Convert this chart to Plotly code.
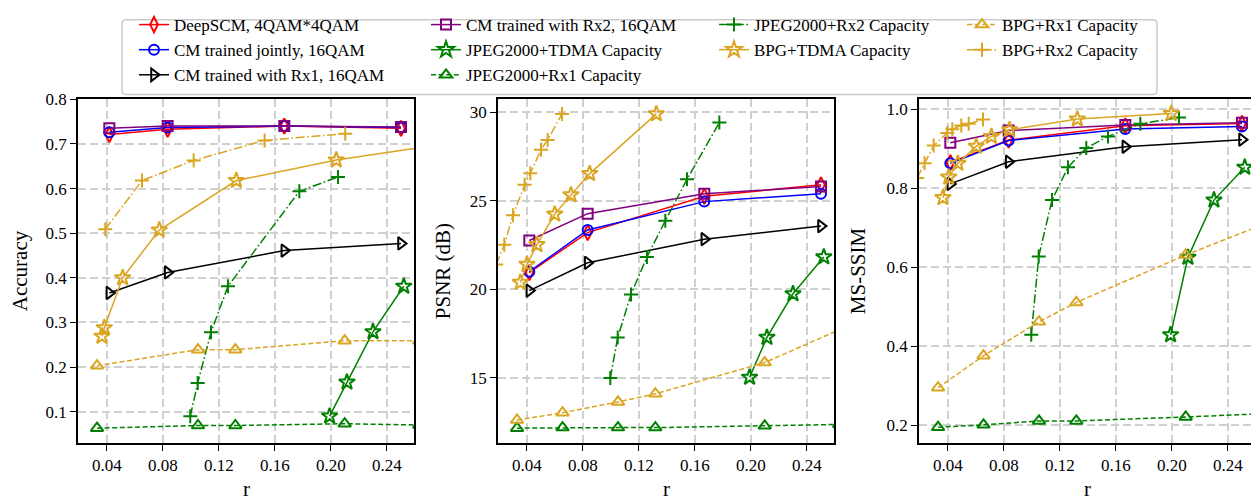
import plotly.graph_objects as go

W, H = 1251, 500

# ---------------- data ----------------
R_CM = [1/24, 1/12, 1/6, 1/4]
X_TICKS = [0.04, 0.08, 0.12, 0.16, 0.20, 0.24]

# (a) Accuracy
ACC_DEEPSCM = [0.721, 0.733, 0.740, 0.735]
ACC_CM_JOINT = [0.726, 0.737, 0.740, 0.737]
ACC_CM_RX1 = [0.366, 0.412, 0.461, 0.477]
ACC_CM_RX2 = [0.735, 0.740, 0.740, 0.738]
ACC_JPEG_TDMA_R = [0.199, 0.2114, 0.230, 0.252]
ACC_JPEG_TDMA = [0.090, 0.166, 0.279, 0.381]
ACC_JPEG_RX1_R = [0.0329, 0.105, 0.1317, 0.2098, 0.263]
ACC_JPEG_RX1 = [0.063, 0.069, 0.069, 0.073, 0.070]
ACC_JPEG_RX2_R = [0.0995, 0.1048, 0.1143, 0.1264, 0.1774, 0.205]
ACC_JPEG_RX2 = [0.090, 0.164, 0.278, 0.381, 0.594, 0.626]
ACC_BPG_TDMA_R = [0.0364, 0.0381, 0.0512, 0.0774, 0.1324, 0.2038, 0.30]
ACC_BPG_TDMA = [0.269, 0.288, 0.400, 0.507, 0.618, 0.664, 0.709]
ACC_BPG_RX1_R = [0.0329, 0.105, 0.1317, 0.2098, 0.263]
ACC_BPG_RX1 = [0.203, 0.239, 0.239, 0.259, 0.259]
ACC_BPG_RX2_R = [0.0388, 0.065, 0.1019, 0.1526, 0.2102]
ACC_BPG_RX2 = [0.509, 0.618, 0.663, 0.708, 0.723]

# (b) PSNR
PSNR_DEEPSCM = [20.95, 23.2, 25.25, 25.9]
PSNR_CM_JOINT = [21.0, 23.35, 24.95, 25.4]
PSNR_CM_RX1 = [19.93, 21.5, 22.83, 23.57]
PSNR_CM_RX2 = [22.76, 24.27, 25.4, 25.8]
PSNR_JPEG_TDMA_R = [0.199, 0.2114, 0.230, 0.252]
PSNR_JPEG_TDMA = [15.04, 17.29, 19.75, 21.83]
PSNR_JPEG_RX1_R = [0.0329, 0.0654, 0.105, 0.1317, 0.2098, 0.263]
PSNR_JPEG_RX1 = [12.17, 12.2, 12.2, 12.2, 12.3, 12.38]
PSNR_JPEG_RX2_R = [0.0995, 0.1048, 0.1143, 0.1257, 0.1388, 0.1543, 0.1774]
PSNR_JPEG_RX2 = [15.0, 17.29, 19.71, 21.83, 23.87, 26.21, 29.41]
PSNR_BPG_TDMA_R = [0.0352, 0.040, 0.0471, 0.0598, 0.0714, 0.0848, 0.1324]
PSNR_BPG_TDMA = [20.39, 21.41, 22.52, 24.24, 25.33, 26.53, 29.9]
PSNR_BPG_RX1_R = [0.0329, 0.0654, 0.105, 0.1317, 0.2098, 0.32]
PSNR_BPG_RX1 = [12.63, 13.04, 13.65, 14.11, 15.87, 19.7]
PSNR_BPG_RX2_R = [0.018, 0.0238, 0.030, 0.0383, 0.0424, 0.050, 0.0548, 0.065]
PSNR_BPG_RX2 = [21.4, 22.52, 24.18, 25.9, 26.55, 27.88, 28.43, 29.9]

# (c) MS-SSIM
SSIM_DEEPSCM = [0.865, 0.922, 0.958, 0.964]
SSIM_CM_JOINT = [0.863, 0.921, 0.950, 0.956]
SSIM_CM_RX1 = [0.811, 0.867, 0.905, 0.923]
SSIM_CM_RX2 = [0.915, 0.946, 0.960, 0.966]
SSIM_JPEG_TDMA_R = [0.199, 0.2114, 0.230, 0.252]
SSIM_JPEG_TDMA = [0.429, 0.625, 0.770, 0.853]
SSIM_JPEG_RX1_R = [0.0329, 0.0654, 0.105, 0.1317, 0.2098, 0.263]
SSIM_JPEG_RX1 = [0.195, 0.201, 0.211, 0.211, 0.221, 0.229]
SSIM_JPEG_RX2_R = [0.0995, 0.1048, 0.1143, 0.1257, 0.1388, 0.1543, 0.1774, 0.205]
SSIM_JPEG_RX2 = [0.429, 0.627, 0.770, 0.853, 0.902, 0.931, 0.963, 0.979]
SSIM_BPG_TDMA_R = [0.0364, 0.0405, 0.0471, 0.0602, 0.071, 0.084, 0.1324, 0.1995]
SSIM_BPG_TDMA = [0.776, 0.828, 0.863, 0.906, 0.931, 0.948, 0.975, 0.989]
SSIM_BPG_RX1_R = [0.0329, 0.0654, 0.105, 0.1317, 0.2098, 0.32]
SSIM_BPG_RX1 = [0.295, 0.376, 0.462, 0.511, 0.631, 0.785]
SSIM_BPG_RX2_R = [0.018, 0.0233, 0.0298, 0.0395, 0.0431, 0.0495, 0.0548, 0.065]
SSIM_BPG_RX2 = [0.826, 0.863, 0.908, 0.940, 0.949, 0.959, 0.963, 0.974]

NAMES = ["DeepSCM, 4QAM*4QAM", "CM trained jointly, 16QAM", "CM trained with Rx1, 16QAM",
         "CM trained with Rx2, 16QAM", "JPEG2000+TDMA Capacity", "JPEG2000+Rx1 Capacity",
         "JPEG2000+Rx2 Capacity", "BPG+TDMA Capacity", "BPG+Rx1 Capacity", "BPG+Rx2 Capacity"]

# ---------------- styles ----------------
RED, BLUE, BLACK, PURPLE, GREEN, GOLD = "#ff0000", "#0000ff", "#000000", "#800080", "#008000", "#daa520"
DASH = "5px,2.6px"
DASHDOT = "9px,2.6px,1.6px,2.6px"
STYLES = [
    dict(color=RED, symbol="diamond-tall-open", size=11, dash="solid"),
    dict(color=BLUE, symbol="circle-open", size=10, dash="solid"),
    dict(color=BLACK, symbol="triangle-right-open", size=11, dash="solid"),
    dict(color=PURPLE, symbol="square-open", size=10, dash="solid"),
    dict(color=GREEN, symbol="star-open", size=12, dash="solid"),
    dict(color=GREEN, symbol="triangle-up-open", size=11, dash=DASH),
    dict(color=GREEN, symbol="cross-thin-open", size=10, dash=DASHDOT),
    dict(color=GOLD, symbol="star-open", size=12, dash="solid"),
    dict(color=GOLD, symbol="triangle-up-open", size=11, dash=DASH),
    dict(color=GOLD, symbol="cross-thin-open", size=10, dash=DASHDOT),
]
# legend column for each series
LEG = ["legend", "legend", "legend", "legend2", "legend2", "legend2",
       "legend3", "legend3", "legend4", "legend4"]

PANELS = [
    ("x", "y", [(R_CM, ACC_DEEPSCM), (R_CM, ACC_CM_JOINT), (R_CM, ACC_CM_RX1), (R_CM, ACC_CM_RX2),
                (ACC_JPEG_TDMA_R, ACC_JPEG_TDMA), (ACC_JPEG_RX1_R, ACC_JPEG_RX1),
                (ACC_JPEG_RX2_R, ACC_JPEG_RX2), (ACC_BPG_TDMA_R, ACC_BPG_TDMA),
                (ACC_BPG_RX1_R, ACC_BPG_RX1), (ACC_BPG_RX2_R, ACC_BPG_RX2)]),
    ("x2", "y2", [(R_CM, PSNR_DEEPSCM), (R_CM, PSNR_CM_JOINT), (R_CM, PSNR_CM_RX1), (R_CM, PSNR_CM_RX2),
                  (PSNR_JPEG_TDMA_R, PSNR_JPEG_TDMA), (PSNR_JPEG_RX1_R, PSNR_JPEG_RX1),
                  (PSNR_JPEG_RX2_R, PSNR_JPEG_RX2), (PSNR_BPG_TDMA_R, PSNR_BPG_TDMA),
                  (PSNR_BPG_RX1_R, PSNR_BPG_RX1), (PSNR_BPG_RX2_R, PSNR_BPG_RX2)]),
    ("x3", "y3", [(R_CM, SSIM_DEEPSCM), (R_CM, SSIM_CM_JOINT), (R_CM, SSIM_CM_RX1), (R_CM, SSIM_CM_RX2),
                  (SSIM_JPEG_TDMA_R, SSIM_JPEG_TDMA), (SSIM_JPEG_RX1_R, SSIM_JPEG_RX1),
                  (SSIM_JPEG_RX2_R, SSIM_JPEG_RX2), (SSIM_BPG_TDMA_R, SSIM_BPG_TDMA),
                  (SSIM_BPG_RX1_R, SSIM_BPG_RX1), (SSIM_BPG_RX2_R, SSIM_BPG_RX2)]),
]

fig = go.Figure()
for pi, (xa, ya, series) in enumerate(PANELS):
    for si, (xs, ys) in enumerate(series):
        st = STYLES[si]
        fig.add_trace(go.Scatter(
            x=xs, y=ys, xaxis=xa, yaxis=ya, mode="lines+markers",
            name=NAMES[si], legend=LEG[si], showlegend=(pi == 0),
            line=dict(color=st["color"], width=1.5, dash=st["dash"]),
            marker=dict(symbol=st["symbol"], size=st["size"], color=st["color"],
                        line=dict(color=st["color"], width=2)),
        ))

FONT = "Liberation Serif"
px = lambda v: v / W
py = lambda v: 1 - v / H

def xaxis(dom, rng, mirror=True):
    return dict(domain=dom, range=rng, tickvals=X_TICKS, tickformat=".2f",
                showline=True, linecolor="black", linewidth=1.6, mirror=mirror,
                ticks="outside", ticklen=6, tickwidth=1.4, tickcolor="black",
                showgrid=True, gridcolor="#d0d0d0", gridwidth=2, griddash="8px,4px",
                zeroline=False, tickfont=dict(family=FONT, size=17, color="black"))

def yaxis(anchor, rng, tv, fmt, mirror=True):
    return dict(domain=[py(442), py(92)], range=rng, tickvals=tv, tickformat=fmt, anchor=anchor,
                showline=True, linecolor="black", linewidth=1.6, mirror=mirror,
                ticks="outside", ticklen=6, tickwidth=1.4, tickcolor="black",
                showgrid=True, gridcolor="#d0d0d0", gridwidth=2, griddash="8px,4px",
                zeroline=False, tickfont=dict(family=FONT, size=17, color="black"))

X_RANGE = [0.0193, 0.2593]
fig.update_layout(
    font=dict(family=FONT, size=17, color="black"),
    xaxis=dict(**xaxis([px(78), px(414)], X_RANGE), anchor="y"),
    xaxis2=dict(**xaxis([px(498), px(834)], X_RANGE), anchor="y2"),
    xaxis3=dict(**xaxis([px(919), 1.0], [0.0193, 0.0193 + (W - 919) / 1400]), anchor="y3"),
    yaxis=yaxis("x", [0.0297, 0.8], [0.1, 0.2, 0.3, 0.4, 0.5, 0.6, 0.7, 0.8], ".1f"),
    yaxis2=yaxis("x2", [11.33, 30.72], [15, 20, 25, 30], "d"),
    yaxis3=yaxis("x3", [0.155, 1.025], [0.2, 0.4, 0.6, 0.8, 1.0], ".1f", mirror=False),
)

# legends: four columns
LEG_TEXT_X = [175, 467, 755, 1003]
for i, key in enumerate(["legend", "legend2", "legend3", "legend4"]):
    fig.update_layout({key: dict(
        x=px(LEG_TEXT_X[i] - 41), xanchor="left", y=py(-2), yanchor="top",
        bgcolor="rgba(0,0,0,0)", borderwidth=0, tracegroupgap=0,
        font=dict(family=FONT, size=17, color="black"), orientation="v")})

# legend frame (rounded)
x0, y0, x1, y1, r = 122, 11, 1157, 87, 4
path = (f"M {px(x0 + r)},{py(y0)} L {px(x1 - r)},{py(y0)} Q {px(x1)},{py(y0)} {px(x1)},{py(y0 + r)} "
        f"L {px(x1)},{py(y1 - r)} Q {px(x1)},{py(y1)} {px(x1 - r)},{py(y1)} "
        f"L {px(x0 + r)},{py(y1)} Q {px(x0)},{py(y1)} {px(x0)},{py(y1 - r)} "
        f"L {px(x0)},{py(y0 + r)} Q {px(x0)},{py(y0)} {px(x0 + r)},{py(y0)} Z")
fig.add_shape(type="path", path=path, xref="paper", yref="paper",
              line=dict(color="#cccccc", width=1.5), fillcolor="white", layer="below")

# axis titles
ann = []
for text, xc in [("Accuracy", 20), ("PSNR (dB)", 443), ("MS-SSIM", 858)]:
    ann.append(dict(text=text, x=px(xc), y=py(267), xref="paper", yref="paper", textangle=-90,
                    showarrow=False, xanchor="center", yanchor="middle",
                    font=dict(family=FONT, size=21, color="black")))
for xc in [246, 666, 1087]:
    ann.append(dict(text="r", x=px(xc), y=py(489), xref="paper", yref="paper",
                    showarrow=False, xanchor="center", yanchor="middle",
                    font=dict(family=FONT, size=21, color="black")))
fig.update_layout(annotations=ann)

fig.update_layout(width=W, height=H, margin=dict(l=0, r=0, t=0, b=0),
                  paper_bgcolor="white", plot_bgcolor="white", hovermode=False)

fig.write_html("out.html")
